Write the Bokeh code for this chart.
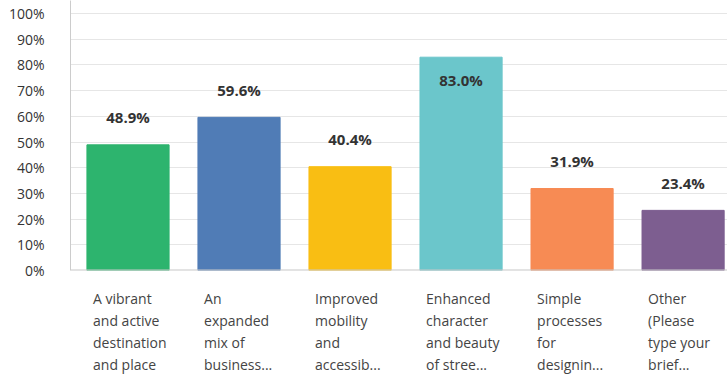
from bokeh.plotting import figure
from bokeh.layouts import column
from bokeh.models import ColumnDataSource, LabelSet, Range1d, FixedTicker, CustomJSTickFormatter
from bokeh.core.properties import value
from bokeh.embed import file_html
from bokeh.resources import INLINE

categories = [
    "A vibrant\nand active\ndestination\nand place",
    "An\nexpanded\nmix of\nbusiness...",
    "Improved\nmobility\nand\naccessib...",
    "Enhanced\ncharacter\nand beauty\nof stree...",
    "Simple\nprocesses\nfor\ndesignin...",
    "Other\n(Please\ntype your\nbrief...",
]
values = [48.9, 59.6, 40.4, 83.0, 31.9, 23.4]
colors = ["#2db46e", "#507cb6", "#f9be13", "#6bc6cb", "#f78b54", "#7d5e90"]
y_ticks = [0, 10, 20, 30, 40, 50, 60, 70, 80, 90, 100]

FONT = "Open Sans"
TXT = "#333333"

xs = [i + 0.5 for i in range(len(values))]
xr = Range1d(-0.018, 5.9)

p = figure(width=727, height=280, output_backend="svg", toolbar_location=None,
           x_range=xr, y_range=Range1d(0, 105.06))
p.min_border_top = 0
p.min_border_left = 70
p.min_border_right = 0
p.min_border_bottom = 10
p.outline_line_color = None

src = ColumnDataSource(dict(x=xs, top=values, color=colors))
p.vbar(x="x", top="top", width=0.74, color="color", source=src)

# value labels: above the bar, or inside it for the tallest bar
lab_y = [v - 9.0 if v > 75 else v + 10.8 for v in values]
lab_src = ColumnDataSource(dict(x=xs, y=lab_y, text=[f"{v:.1f}%" for v in values]))
p.add_layout(LabelSet(x="x", y="y", text="text", source=lab_src,
                      text_align="center", text_baseline="middle",
                      text_font=value(FONT), text_font_size="15px", text_font_style="bold",
                      text_color="#333333"))

p.xaxis.visible = False
p.xgrid.visible = False
p.ygrid.ticker = FixedTicker(ticks=y_ticks)
p.ygrid.grid_line_color = "#e6e6e6"

p.yaxis.ticker = FixedTicker(ticks=y_ticks)
p.yaxis.formatter = CustomJSTickFormatter(code="return tick + '%';")
p.yaxis.major_tick_line_color = None
p.yaxis.minor_tick_line_color = None
p.yaxis.axis_line_color = "#cccccc"
p.yaxis.major_label_standoff = 20
p.yaxis.major_label_text_font = FONT
p.yaxis.major_label_text_font_size = "14px"
p.yaxis.major_label_text_color = TXT

# baseline under bars
p.segment(x0=[xr.start], y0=[0], x1=[xr.end], y1=[0], line_color="#c8c8c8", line_width=2)

# category labels in a strip below, left-aligned lines
cx, cy, ct = [], [], []
for i, c in enumerate(categories):
    for j, line in enumerate(c.split("\n")):
        cx.append(xs[i] - 0.315)
        cy.append(j)
        ct.append(line)

q = figure(width=727, height=94, output_backend="svg", toolbar_location=None,
           x_range=xr, y_range=Range1d(3.4545, -0.818))
q.min_border_top = 0
q.min_border_left = 70
q.min_border_right = 0
q.min_border_bottom = 0
q.outline_line_color = None
q.axis.visible = False
q.grid.visible = False
q.text(x="x", y="y", text="text", source=ColumnDataSource(dict(x=cx, y=cy, text=ct)),
       text_align="left", text_baseline="middle", text_font=value(FONT),
       text_font_size="14px", text_color="#444444")

layout = column(p, q, spacing=0)
open("out.html", "w").write(file_html(layout, INLINE))
